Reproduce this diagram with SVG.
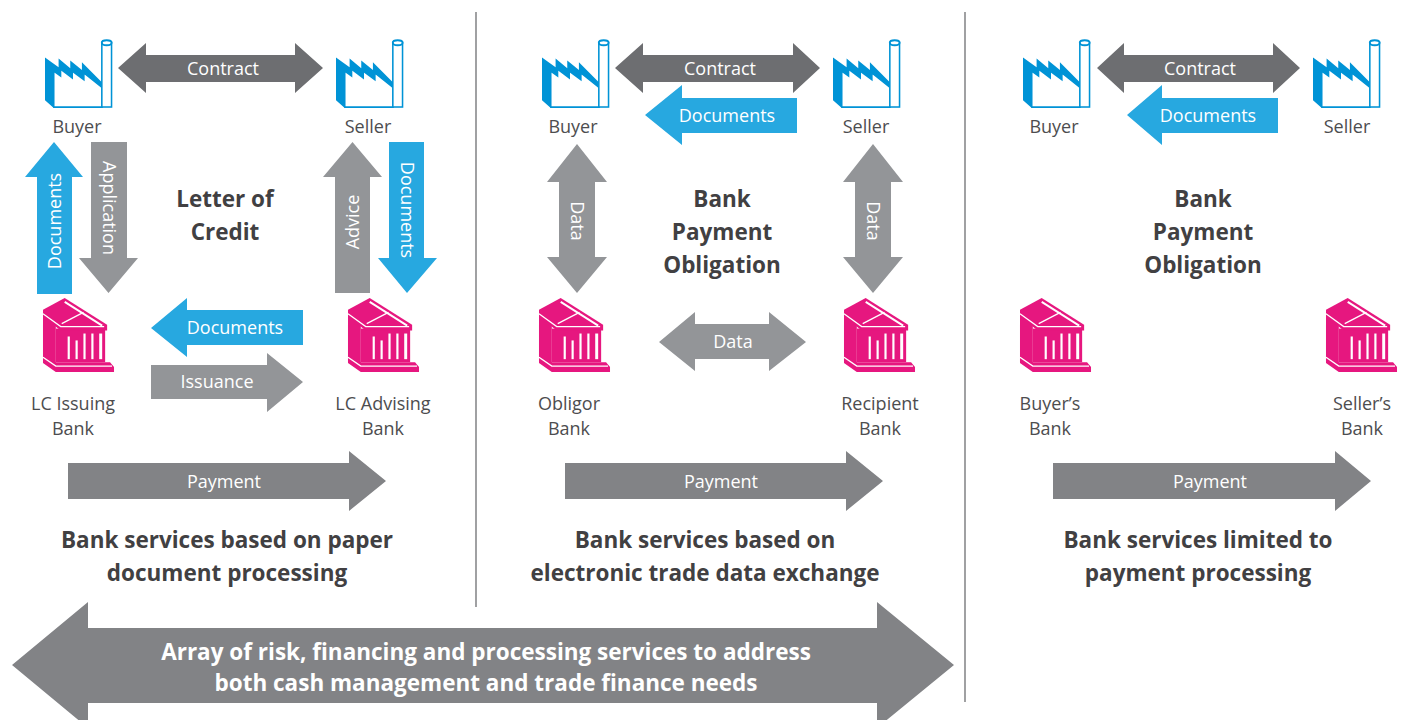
<svg xmlns="http://www.w3.org/2000/svg" xmlns:xlink="http://www.w3.org/1999/xlink" width="1411" height="720" viewBox="0 0 1411 720">
<style>
.lbl{font-family:"Open Sans","Noto Sans",sans-serif;font-size:18px;fill:#4d4d4f;text-anchor:middle}
.at{font-family:"Open Sans","Noto Sans",sans-serif;font-size:18px;fill:#ffffff;text-anchor:middle}
.ttl{font-family:"Open Sans","Noto Sans",sans-serif;font-size:22.5px;font-weight:700;fill:#414042;text-anchor:middle}
.big{font-family:"Open Sans","Noto Sans",sans-serif;font-size:22.5px;font-weight:700;fill:#ffffff;text-anchor:middle}
.dk{fill:#6d6e71}
.md{fill:#939598}
.pay{fill:#828386}
.bl{fill:#27a8e0}
.sep{stroke:#6d6e71;stroke-width:1.3;fill:none}
</style>
<defs>
<symbol id="factory" viewBox="0 0 70 71">
<polygon points="0,19 14,29 14,20 26,30 26,22 38,32 38,24 59,45 59,71 9,71 0,63" fill="#0093d6"/>
<polygon points="9,33 16,38 16,31 28,40 28,33 40,42 40,35 59,50 59,70 9,70" fill="#ffffff" stroke="#0093d6" stroke-width="1.6" stroke-linejoin="miter"/>
<rect x="58.5" y="3.5" width="10" height="66.5" fill="#ffffff" stroke="#0093d6" stroke-width="1.6"/>
<ellipse cx="63.5" cy="3.8" rx="5" ry="2.6" fill="#ffffff" stroke="#0093d6" stroke-width="2"/>
</symbol>
<symbol id="bank" viewBox="0 0 74 77">
<polygon points="1,19 14,28 14,67 1,59" fill="#e6177f"/>
<rect x="14" y="32" width="50" height="34" fill="#e6177f"/>
<g fill="#ffffff">
<rect x="26" y="40" width="2.2" height="23"/>
<rect x="34" y="44" width="2.2" height="19"/>
<rect x="42" y="37" width="2.2" height="26"/>
<rect x="50" y="37" width="2.2" height="26"/>
<rect x="58" y="37" width="3" height="26"/>
</g>
<polygon points="1,13 23,1 66,28 66,34 19,34 1,20" fill="#e6177f"/>
<polyline points="23,5 61,29" fill="none" stroke="#ffffff" stroke-width="2"/>
<line x1="20" y1="27" x2="42" y2="15.5" stroke="#ffffff" stroke-width="1.3"/>
<polyline points="1,17 19,30 63,30" fill="none" stroke="#ffffff" stroke-width="1.3"/>
<polygon points="1,58 14,66 69,66 73,71 73,76 14,76 1,67" fill="#e6177f"/>
<polyline points="1,61 14,70 71,70" fill="none" stroke="#ffffff" stroke-width="1.4"/>
</symbol>
</defs>
<rect width="1411" height="720" fill="#ffffff"/>

<g id="separators">
<line class="sep" x1="476" y1="12" x2="476" y2="607"/>
<line class="sep" x1="965" y1="12" x2="965" y2="702"/>
</g>

<g id="connectors">
<!-- Panel 1 -->
<polygon class="dk" points="118,68 146,43 146,55 295,55 295,43 323,68 295,93 295,82 146,82 146,93"/>
<polygon class="bl" points="54,142 83,177 72,177 72,294 37,294 37,177 25,177"/>
<polygon class="md" points="91,142 127,142 127,258 138,258 108.5,293 79,258 91,258"/>
<polygon class="md" points="352.5,142 382,177 370,177 370,293 335,293 335,177 323,177"/>
<polygon class="bl" points="389,142 424,142 424,258 437,258 407,293 378,258 389,258"/>
<polygon class="bl" points="151,328 187,298 187,310 303,310 303,345 187,345 187,357"/>
<polygon class="md" points="151,365 267,365 267,353 303,382 267,412 267,399 151,399"/>
<polygon class="pay" points="68,463 349,463 349,451 386,481 349,511 349,499 68,499"/>
<text class="at" x="223" y="75">Contract</text>
<text class="at" transform="translate(61,221) rotate(-90)">Documents</text>
<text class="at" transform="translate(102.5,208) rotate(90)">Application</text>
<text class="at" transform="translate(359,222) rotate(-90)">Advice</text>
<text class="at" transform="translate(400.5,210) rotate(90)">Documents</text>
<text class="at" x="235" y="334">Documents</text>
<text class="at" x="217" y="388">Issuance</text>
<text class="at" x="224" y="488">Payment</text>

<!-- Panel 2 -->
<polygon class="dk" points="615,68 643,43 643,55 793,55 793,43 820,68 793,93 793,82 643,82 643,93"/>
<polygon class="bl" points="645,115 682,85 682,98 797,98 797,133 682,133 682,145"/>
<polygon class="md" points="577,144 607,182 595,182 595,257 607,257 577,293 547,257 559,257 559,182 547,182"/>
<polygon class="md" points="873,144 903,182 891,182 891,257 903,257 873,293 843,257 855,257 855,182 843,182"/>
<polygon class="md" points="659,342 695,312 695,324 769,324 769,312 806,342 769,371 769,359 695,359 695,371"/>
<polygon class="pay" points="565,463 846,463 846,451 883,481 846,511 846,499 565,499"/>
<text class="at" x="720" y="75">Contract</text>
<text class="at" x="727" y="122">Documents</text>
<text class="at" transform="translate(570.5,221) rotate(90)">Data</text>
<text class="at" transform="translate(866.5,221) rotate(90)">Data</text>
<text class="at" x="733" y="348">Data</text>
<text class="at" x="721" y="488">Payment</text>

<!-- Panel 3 -->
<polygon class="dk" points="1097,68 1124,43 1124,55 1273,55 1273,43 1300,68 1273,93 1273,82 1124,82 1124,93"/>
<polygon class="bl" points="1127,115 1162,85 1162,98 1278,98 1278,133 1162,133 1162,145"/>
<polygon class="pay" points="1053,463 1335,463 1335,451 1371,481 1335,511 1335,499 1053,499"/>
<text class="at" x="1200" y="75">Contract</text>
<text class="at" x="1208" y="122">Documents</text>
<text class="at" x="1210" y="488">Payment</text>

<!-- Bottom span arrow -->
<polygon class="pay" points="12,665 88,602 88,628 877,628 877,602 954,665 877,728 877,703 88,703 88,728"/>
<text class="big" x="486" y="660">Array of risk, financing and processing services to address</text>
<text class="big" x="486" y="691">both cash management and trade finance needs</text>
</g>

<!-- Panel 1 nodes -->
<g id="p1-buyer"><use xlink:href="#factory" x="45" y="39" width="68" height="69"/><text class="lbl" x="77" y="133">Buyer</text></g>
<g id="p1-seller"><use xlink:href="#factory" x="336" y="39" width="68" height="69"/><text class="lbl" x="368" y="133">Seller</text></g>
<g id="p1-issuing"><use xlink:href="#bank" x="42" y="297" width="73" height="76"/><text class="lbl" x="73" y="410">LC Issuing</text><text class="lbl" x="73" y="435">Bank</text></g>
<g id="p1-advising"><use xlink:href="#bank" x="347" y="297" width="73" height="76"/><text class="lbl" x="383" y="410">LC Advising</text><text class="lbl" x="383" y="435">Bank</text></g>
<g id="p1-title"><text class="ttl" x="225" y="207">Letter of</text><text class="ttl" x="225" y="240">Credit</text></g>
<g id="p1-caption"><text class="ttl" x="227" y="548">Bank services based on paper</text><text class="ttl" x="227" y="581">document processing</text></g>

<!-- Panel 2 nodes -->
<g id="p2-buyer"><use xlink:href="#factory" x="542" y="39" width="68" height="69"/><text class="lbl" x="573" y="133">Buyer</text></g>
<g id="p2-seller"><use xlink:href="#factory" x="833" y="39" width="68" height="69"/><text class="lbl" x="866" y="133">Seller</text></g>
<g id="p2-obligor"><use xlink:href="#bank" x="538" y="297" width="73" height="76"/><text class="lbl" x="569" y="410">Obligor</text><text class="lbl" x="569" y="435">Bank</text></g>
<g id="p2-recipient"><use xlink:href="#bank" x="843" y="297" width="73" height="76"/><text class="lbl" x="880" y="410">Recipient</text><text class="lbl" x="880" y="435">Bank</text></g>
<g id="p2-title"><text class="ttl" x="722" y="207">Bank</text><text class="ttl" x="722" y="240">Payment</text><text class="ttl" x="722" y="273">Obligation</text></g>
<g id="p2-caption"><text class="ttl" x="705" y="548">Bank services based on</text><text class="ttl" x="705" y="581">electronic trade data exchange</text></g>

<!-- Panel 3 nodes -->
<g id="p3-buyer"><use xlink:href="#factory" x="1023" y="39" width="68" height="69"/><text class="lbl" x="1054" y="133">Buyer</text></g>
<g id="p3-seller"><use xlink:href="#factory" x="1313" y="39" width="68" height="69"/><text class="lbl" x="1347" y="133">Seller</text></g>
<g id="p3-buyerbank"><use xlink:href="#bank" x="1019" y="297" width="73" height="76"/><text class="lbl" x="1050" y="410">Buyer&#8217;s</text><text class="lbl" x="1050" y="435">Bank</text></g>
<g id="p3-sellerbank"><use xlink:href="#bank" x="1325" y="297" width="73" height="76"/><text class="lbl" x="1362" y="410">Seller&#8217;s</text><text class="lbl" x="1362" y="435">Bank</text></g>
<g id="p3-title"><text class="ttl" x="1203" y="207">Bank</text><text class="ttl" x="1203" y="240">Payment</text><text class="ttl" x="1203" y="273">Obligation</text></g>
<g id="p3-caption"><text class="ttl" x="1198" y="548">Bank services limited to</text><text class="ttl" x="1198" y="581">payment processing</text></g>
</svg>
